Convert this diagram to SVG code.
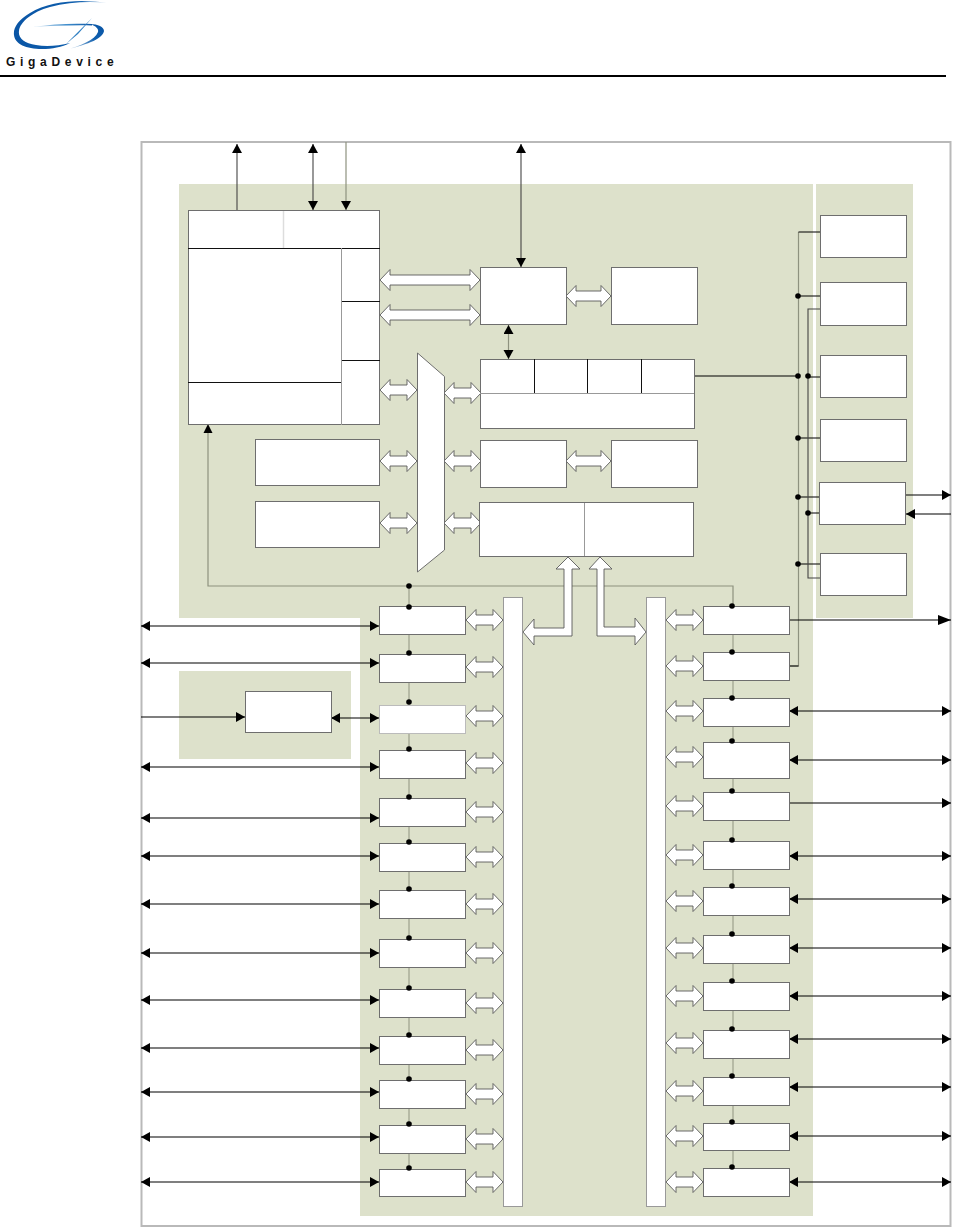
<svg xmlns="http://www.w3.org/2000/svg" width="953" height="1229" viewBox="0 0 953 1229">
<style>
.zone{fill:#dde1cb}
.box{fill:#fff;stroke:#6e6e6e;stroke-width:1}
.in{fill:none;stroke:#111;stroke-width:1}
.lt{fill:none;stroke:#999;stroke-width:1}
.blk{fill:none;stroke:#000;stroke-width:1.2}
.gl{fill:none;stroke:#8e927f;stroke-width:1.2}
.gv{fill:none;stroke:#a9ad98;stroke-width:1.5}
.dk{fill:none;stroke:#444;stroke-width:1.1}
.ar{fill:#fff;stroke:#5a5a5a;stroke-width:.9}
.b{marker-end:url(#h)}
.bb{marker-start:url(#h);marker-end:url(#h)}
</style>
<defs>
<marker id="h" markerUnits="userSpaceOnUse" markerWidth="10" markerHeight="11" refX="9" refY="5" orient="auto-start-reverse"><path d="M0,0L9,5L0,10Z" fill="#000"/></marker>
<marker id="H" markerUnits="userSpaceOnUse" markerWidth="14" markerHeight="11" refX="13" refY="5" orient="auto"><path d="M0,0L13,5L0,10Z" fill="#000"/></marker>
<linearGradient id="lg" x1="0" y1="0" x2="1" y2="0"><stop offset="0" stop-color="#0a55a5"/><stop offset=".7" stop-color="#0f5fae"/><stop offset="1" stop-color="#cfe0f0"/></linearGradient>
<linearGradient id="lg2" x1="0" y1="0" x2="1" y2="0"><stop offset="0" stop-color="#dcebf6"/><stop offset=".6" stop-color="#3f8ccb"/><stop offset="1" stop-color="#0a55a5"/></linearGradient>
<linearGradient id="lg3" x1="0" y1="1" x2="1" y2="0"><stop offset="0" stop-color="#cfe0f0"/><stop offset=".6" stop-color="#0f5fae"/><stop offset="1" stop-color="#0a55a5"/></linearGradient>
<path id="d37" class="ar" d="M0,0L10,-10.5V-5H27V-10.5L37,0L27,10.5V5H10V10.5Z"/>
<path id="d45" class="ar" d="M0,0L10,-10.5V-5H35V-10.5L45,0L35,10.5V5H10V10.5Z"/>
<path id="d100" class="ar" d="M0,0L10,-10.500V-5H90V-10.500L100,0L90,10.500V5H10V10.500Z"/>
<circle id="dot" r="2.8" fill="#000"/>
</defs>
<rect width="953" height="1229" fill="#fff"/>
<g id="logo">
<path d="M108,3C84,-1 50,0 30,13C18,20 13,28 14,35C15,44 26,49 42,49C52,49 62,47 70,43C58,46 46,47 36,45C24,43 18,38 19,31C20,22 32,12 50,7C68,2 90,1 108,3Z" fill="url(#lg)"/>
<path d="M65,50C80,46 95,40 98,32C99,29 96,26 90,24C98,24 104,27 104,31C103,38 90,44 65,50Z" fill="url(#lg3)"/>
<path d="M32,27C52,24 72,23 92,24L92,25.500C72,25 52,26 32,27Z" fill="url(#lg2)"/>
<path d="M92,18L76,34L66,44L78,34Z" fill="#2f7fc2"/>
<text x="6" y="66" font-family="'Liberation Sans',Arial,sans-serif" font-size="12" font-weight="bold" letter-spacing="4.700" fill="#111">GigaDevice</text>
</g>
<line id="rule" x1="0" y1="76" x2="946" y2="76" stroke="#000" stroke-width="2"/>
<rect id="frame" x="141.500" y="142" width="809" height="1084" fill="#fff" stroke="#b9b9b9" stroke-width="2"/>
<g id="zones">
<path class="zone" d="M179,184H813V1216H360V618H179Z"/>
<rect class="zone" x="816" y="184" width="97" height="434"/>
<rect class="zone" x="179" y="671" width="172" height="88"/>
</g>
<g id="connectors">
<path class="gl" d="M208,432V586H733V606"/>
<path class="gv" d="M409,586V1169"/>
<path class="gv" d="M733,606V1168"/>
<path d="M208,424L212.500,433H203.500Z" fill="#000"/>
<path class="dk" d="M237,210V144" marker-end="url(#h)"/>
<path class="dk" d="M313,144V210" style="marker-start:url(#h);marker-end:url(#h)"/>
<path class="gl" d="M346,142V210" marker-end="url(#h)"/>
<path class="dk" d="M521,144V267" style="marker-start:url(#h);marker-end:url(#h)"/>
<path class="gl" d="M508.500,325V359" style="marker-start:url(#h);marker-end:url(#h)"/>
<path class="gl" d="M798.500,232V666H789"/>
<path class="blk" d="M798.500,232H820M798.500,296H820M694,376H798.500M807,377H820M798.500,438H820M798.500,497H819M807,513H819M798.500,564H820M789,666H798.500"/>
<path class="dk" d="M820,309H808V578H820"/>
<path class="blk" d="M905,495H951" marker-end="url(#h)"/>
<path class="blk" d="M951,514H906" marker-end="url(#h)"/>
<path class="blk" d="M789,620H951" marker-end="url(#H)"/>
<line class="blk bb" x1="789" y1="711" x2="951" y2="711"/><line class="blk bb" x1="789" y1="760" x2="951" y2="760"/><line class="blk bb" x1="789" y1="856" x2="951" y2="856"/><line class="blk bb" x1="789" y1="899" x2="951" y2="899"/><line class="blk bb" x1="789" y1="948" x2="951" y2="948"/><line class="blk bb" x1="789" y1="996" x2="951" y2="996"/><line class="blk bb" x1="789" y1="1039" x2="951" y2="1039"/><line class="blk bb" x1="789" y1="1087" x2="951" y2="1087"/><line class="blk bb" x1="789" y1="1136" x2="951" y2="1136"/><line class="blk bb" x1="789" y1="1182" x2="951" y2="1182"/>
<line class="blk bb" x1="141" y1="626" x2="379" y2="626"/><line class="blk bb" x1="141" y1="663" x2="379" y2="663"/><line class="blk bb" x1="141" y1="767" x2="379" y2="767"/><line class="blk bb" x1="141" y1="818" x2="379" y2="818"/><line class="blk bb" x1="141" y1="856" x2="379" y2="856"/><line class="blk bb" x1="141" y1="904" x2="379" y2="904"/><line class="blk bb" x1="141" y1="953" x2="379" y2="953"/><line class="blk bb" x1="141" y1="1000" x2="379" y2="1000"/><line class="blk bb" x1="141" y1="1048" x2="379" y2="1048"/><line class="blk bb" x1="141" y1="1092" x2="379" y2="1092"/><line class="blk bb" x1="141" y1="1137" x2="379" y2="1137"/><line class="blk bb" x1="141" y1="1182" x2="379" y2="1182"/>
<line class="blk bb" x1="331" y1="718" x2="379" y2="718"/>
<line class="blk b" x1="789" y1="803" x2="951" y2="803"/>
<line class="blk b" x1="141" y1="717" x2="245" y2="717"/>
<g id="dots">
<use href="#dot" x="798" y="296"/><use href="#dot" x="798" y="376"/><use href="#dot" x="808" y="376"/><use href="#dot" x="798" y="438"/><use href="#dot" x="798" y="497"/><use href="#dot" x="808" y="513"/><use href="#dot" x="798" y="564"/>
</g>
<g id="wide-arrows">
<use href="#d100" x="380" y="280"/><use href="#d100" x="380" y="315"/>
<use href="#d45" x="566" y="296"/><use href="#d45" x="566" y="461"/>
<use href="#d37" x="380" y="390"/><use href="#d37" x="380" y="461"/><use href="#d37" x="380" y="523"/>
<use href="#d37" x="444" y="393"/><use href="#d37" x="444" y="461"/><use href="#d37" x="444" y="523"/>
<path class="ar" d="M568,557L580,569H572V636H534V645L523,632L534,619V628H564V569H556Z"/>
<path class="ar" d="M600,557L612,569H604V627H635V618L646,632L635,645V636H597V569H589Z"/>
<use href="#d37" x="466" y="620"/><use href="#d37" x="466" y="667"/><use href="#d37" x="466" y="716"/><use href="#d37" x="466" y="763"/><use href="#d37" x="466" y="812"/><use href="#d37" x="466" y="857"/><use href="#d37" x="466" y="904"/><use href="#d37" x="466" y="953"/><use href="#d37" x="466" y="1003"/><use href="#d37" x="466" y="1050"/><use href="#d37" x="466" y="1094"/><use href="#d37" x="466" y="1139"/><use href="#d37" x="466" y="1182"/>
<use href="#d37" x="666" y="620"/><use href="#d37" x="666" y="666"/><use href="#d37" x="666" y="711"/><use href="#d37" x="666" y="757"/><use href="#d37" x="666" y="806"/><use href="#d37" x="666" y="855"/><use href="#d37" x="666" y="901"/><use href="#d37" x="666" y="948"/><use href="#d37" x="666" y="996"/><use href="#d37" x="666" y="1043"/><use href="#d37" x="666" y="1091"/><use href="#d37" x="666" y="1136"/><use href="#d37" x="666" y="1182"/>
</g>
</g>
<g id="cpu-block">
<rect class="box" x="188.500" y="210.500" width="191" height="214"/>
<path class="lt" d="M283.500,211V248" style="stroke:#ddd;stroke-width:1.500"/>
<path class="in" d="M188,248.500H380M341,301.500H380M341,360.500H380M188,382.500H341"/>
<path class="lt" d="M341.500,248V425"/>
</g>
<g id="flash-ctrl"><rect class="box" x="480.500" y="267.500" width="86" height="57"/></g>
<g id="flash"><rect class="box" x="611.500" y="267.500" width="86" height="57"/></g>
<g id="debug-block">
<rect class="box" x="480.500" y="359.500" width="214" height="69"/>
<path class="lt" d="M480,393.500H694"/>
<path class="in" d="M534.500,359V393M587.500,359V393M641.500,359V393"/>
</g>
<g id="mem-a"><rect class="box" x="255.500" y="439.500" width="124" height="46"/></g>
<g id="mem-b"><rect class="box" x="255.500" y="501.500" width="124" height="46"/></g>
<g id="matrix"><path class="box" d="M417.500,353L444.500,376.500V550L417.500,572Z"/></g>
<g id="sram-ctrl"><rect class="box" x="480.500" y="440.500" width="86" height="47"/></g>
<g id="sram"><rect class="box" x="611.500" y="440.500" width="86" height="47"/></g>
<g id="bridge">
<rect class="box" x="479.500" y="502.500" width="214" height="54"/>
<path class="lt" d="M584.500,503V556"/>
</g>
<g id="bus-left"><rect class="box" x="503.500" y="597.500" width="19" height="609" style="stroke:#999"/></g>
<g id="bus-right"><rect class="box" x="646.500" y="597.500" width="19" height="609" style="stroke:#999"/></g>
<g id="clk-1"><rect class="box" x="820.500" y="215.500" width="86" height="42"/></g>
<g id="clk-2"><rect class="box" x="820.500" y="282.500" width="86" height="43"/></g>
<g id="clk-3"><rect class="box" x="820.500" y="355.500" width="86" height="42"/></g>
<g id="clk-4"><rect class="box" x="820.500" y="419.500" width="86" height="42"/></g>
<g id="clk-5"><rect class="box" x="819.500" y="482.500" width="86" height="42"/></g>
<g id="clk-6"><rect class="box" x="820.500" y="553.500" width="86" height="42"/></g>
<g id="ana"><rect class="box" x="245.500" y="691.500" width="86" height="41"/></g>
<g id="left-periph">
<rect id="l1" class="box" x="379.500" y="606.500" width="86" height="28"/>
<rect id="l2" class="box" x="379.500" y="654.500" width="86" height="28"/>
<rect id="l3" class="box" x="379.500" y="705.500" width="86" height="28" style="stroke:#bbb"/>
<rect id="l4" class="box" x="379.500" y="750.500" width="86" height="28"/>
<rect id="l5" class="box" x="379.500" y="798.500" width="86" height="28"/>
<rect id="l6" class="box" x="379.500" y="843.500" width="86" height="28"/>
<rect id="l7" class="box" x="379.500" y="890.500" width="86" height="28"/>
<rect id="l8" class="box" x="379.500" y="939.500" width="86" height="28"/>
<rect id="l9" class="box" x="379.500" y="989.500" width="86" height="28"/>
<rect id="l10" class="box" x="379.500" y="1036.500" width="86" height="28"/>
<rect id="l11" class="box" x="379.500" y="1080.500" width="86" height="28"/>
<rect id="l12" class="box" x="379.500" y="1125.500" width="86" height="28"/>
<rect id="l13" class="box" x="379.500" y="1169.500" width="86" height="27"/>
</g>
<g id="right-periph">
<rect id="r1" class="box" x="703.500" y="606.500" width="86" height="28"/>
<rect id="r2" class="box" x="703.500" y="652.500" width="86" height="28"/>
<rect id="r3" class="box" x="703.500" y="698.500" width="86" height="28"/>
<rect id="r4" class="box" x="703.500" y="742.500" width="86" height="36"/>
<rect id="r5" class="box" x="703.500" y="792.500" width="86" height="28"/>
<rect id="r6" class="box" x="703.500" y="841.500" width="86" height="28"/>
<rect id="r7" class="box" x="703.500" y="887.500" width="86" height="28"/>
<rect id="r8" class="box" x="703.500" y="935.500" width="86" height="28"/>
<rect id="r9" class="box" x="703.500" y="982.500" width="86" height="28"/>
<rect id="r10" class="box" x="703.500" y="1030.500" width="86" height="28"/>
<rect id="r11" class="box" x="703.500" y="1077.500" width="86" height="28"/>
<rect id="r12" class="box" x="703.500" y="1123.500" width="86" height="27"/>
<rect id="r13" class="box" x="703.500" y="1168.500" width="86" height="28"/>
</g>
<g id="bus-dots">
<use href="#dot" x="409" y="586"/><use href="#dot" x="409" y="607"/><use href="#dot" x="409" y="653"/><use href="#dot" x="409" y="702"/><use href="#dot" x="409" y="749"/><use href="#dot" x="409" y="797"/><use href="#dot" x="409" y="842"/><use href="#dot" x="409" y="889"/><use href="#dot" x="409" y="938"/><use href="#dot" x="409" y="988"/><use href="#dot" x="409" y="1035"/><use href="#dot" x="409" y="1079"/><use href="#dot" x="409" y="1124"/><use href="#dot" x="409" y="1168"/>
<use href="#dot" x="732" y="606"/><use href="#dot" x="732" y="652"/><use href="#dot" x="732" y="698"/><use href="#dot" x="732" y="741"/><use href="#dot" x="732" y="791"/><use href="#dot" x="732" y="840"/><use href="#dot" x="732" y="886"/><use href="#dot" x="732" y="934"/><use href="#dot" x="732" y="981"/><use href="#dot" x="732" y="1029"/><use href="#dot" x="732" y="1076"/><use href="#dot" x="732" y="1122"/><use href="#dot" x="732" y="1167"/>
</g>
</svg>
